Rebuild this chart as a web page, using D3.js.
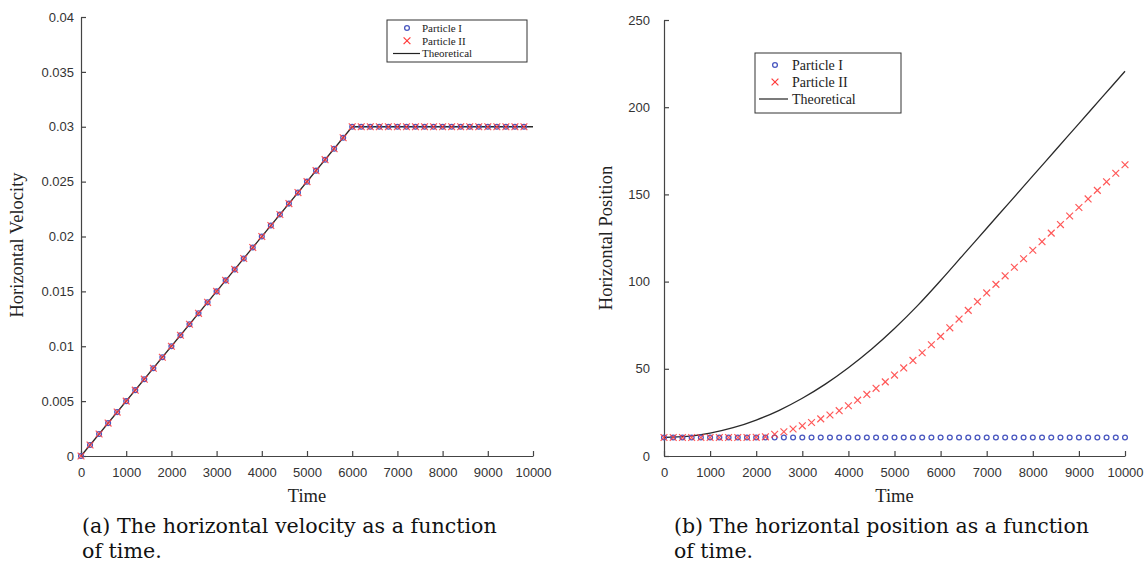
<!DOCTYPE html>
<html><head><meta charset="utf-8">
<script src="https://cdn.jsdelivr.net/npm/d3@7/dist/d3.min.js"></script>
<style>
body{margin:0;background:#fff;}
svg{display:block;}
.tick text{font-family:"Liberation Sans",Arial,sans-serif;font-size:13px;fill:#333;}
</style></head><body>
<svg id="c" width="1147" height="567"></svg>
<script>
// ---------- DATA ----------
// (a) horizontal velocity
const velTime = [0,200,400,600,800,1000,1200,1400,1600,1800,2000,2200,2400,2600,2800,3000,3200,3400,3600,3800,4000,4200,4400,4600,4800,5000,5200,5400,5600,5800,6000,6200,6400,6600,6800,7000,7200,7400,7600,7800,8000,8200,8400,8600,8800,9000,9200,9400,9600,9800];
const velParticleI = [0,0.001,0.002,0.003,0.004,0.005,0.006,0.007,0.008,0.009,0.010,0.011,0.012,0.013,0.014,0.015,0.016,0.017,0.018,0.019,0.020,0.021,0.022,0.023,0.024,0.025,0.026,0.027,0.028,0.029,0.030,0.030,0.030,0.030,0.030,0.030,0.030,0.030,0.030,0.030,0.030,0.030,0.030,0.030,0.030,0.030,0.030,0.030,0.030,0.030];
const velParticleII = [0,0.001,0.002,0.003,0.004,0.005,0.006,0.007,0.008,0.009,0.010,0.011,0.012,0.013,0.014,0.015,0.016,0.017,0.018,0.019,0.020,0.021,0.022,0.023,0.024,0.025,0.026,0.027,0.028,0.029,0.030,0.030,0.030,0.030,0.030,0.030,0.030,0.030,0.030,0.030,0.030,0.030,0.030,0.030,0.030,0.030,0.030,0.030,0.030,0.030];
const velTheoTime = [0,6000,10000];
const velTheo = [0,0.03,0.03];
const velTicksY = [0,0.005,0.01,0.015,0.02,0.025,0.03,0.035,0.04];

// (b) horizontal position
const posTime = [0,200,400,600,800,1000,1200,1400,1600,1800,2000,2200,2400,2600,2800,3000,3200,3400,3600,3800,4000,4200,4400,4600,4800,5000,5200,5400,5600,5800,6000,6200,6400,6600,6800,7000,7200,7400,7600,7800,8000,8200,8400,8600,8800,9000,9200,9400,9600,9800,10000];
const posParticleI = [10.6,10.6,10.6,10.6,10.6,10.6,10.6,10.6,10.6,10.6,10.6,10.6,10.6,10.6,10.6,10.6,10.6,10.6,10.6,10.6,10.6,10.6,10.6,10.6,10.6,10.6,10.6,10.6,10.6,10.6,10.6,10.6,10.6,10.6,10.6,10.6,10.6,10.6,10.6,10.6,10.6,10.6,10.6,10.6,10.6,10.6,10.6,10.6,10.6,10.6,10.6];
const posParticleII = [10.6,10.6,10.6,10.6,10.6,10.6,10.6,10.6,10.6,10.6,10.7,11.0,12.5,13.9,15.5,17.3,19.2,21.3,23.5,26.0,28.8,32.0,35.3,38.8,42.5,46.4,50.5,54.8,59.2,63.8,68.6,73.5,78.5,83.5,88.5,93.5,98.4,103.3,108.2,113.1,118.0,122.9,127.8,132.7,137.6,142.5,147.4,152.3,157.2,162.1,167.0];
const posTheoTime = [0,500,1000,1500,2000,2500,3000,3500,4000,4500,5000,5500,6000,6500,7000,7500,8000,8500,9000,9500,10000];
const posTheo = [10.6,11.2,13.1,16.2,20.6,26.2,33.1,41.2,50.6,61.2,73.1,86.2,100.6,115.6,130.6,145.6,160.6,175.6,190.6,205.6,220.6];
const posTicksY = [0,50,100,150,200,250];

const timeTicks = [0,1000,2000,3000,4000,5000,6000,7000,8000,9000,10000];
const legendLabels = ["Particle I","Particle II","Theoretical"];
const captionA = ["(a) The horizontal velocity as a function","of time."];
const captionB = ["(b) The horizontal position as a function","of time."];

// ---------- DRAW ----------
const svg = d3.select("#c");
const SERIF = '"Liberation Serif","Times New Roman",serif';
const CAPSERIF = '"DejaVu Serif","Liberation Serif",serif';
const blue = "#4a58c0", red = "#ff3b3b", axisCol = "#444";

function panel(o){
  const x = d3.scaleLinear().domain([0,10000]).range([o.x0,o.x1]);
  const y = d3.scaleLinear().domain(o.ydom).range([456,o.ytop]);
  const g = svg.append("g");

  const xa = g.append("g").attr("transform","translate(0,456)")
    .call(d3.axisBottom(x).tickValues(timeTicks).tickFormat(d3.format("d")).tickSizeInner(-5).tickSizeOuter(0).tickPadding(9));
  const ya = g.append("g").attr("transform",`translate(${o.x0},0)`)
    .call(d3.axisLeft(y).tickValues(o.ticks).tickFormat(o.fmt).tickSizeInner(-5).tickSizeOuter(0).tickPadding(o.pad));
  [xa,ya].forEach(a=>{
    a.select(".domain").attr("stroke",axisCol).attr("stroke-width",1.2);
    a.selectAll(".tick line").attr("stroke",axisCol).attr("stroke-width",1.2);
  });
  xa.selectAll(".tick text").attr("dy","0.9em");

  g.append("path")
    .datum(o.theoT.map((t,i)=>[t,o.theo[i]]))
    .attr("fill","none").attr("stroke","#2a2a2a").attr("stroke-width",1.3)
    .attr("d", d3.line().x(d=>x(d[0])).y(d=>y(d[1])).curve(o.curve));

  g.selectAll(".p1").data(o.t.map((t,i)=>[t,o.p1[i]])).join("circle")
    .attr("cx",d=>x(d[0])).attr("cy",d=>y(d[1])).attr("r",2.4)
    .attr("fill","none").attr("stroke",blue).attr("stroke-width",1.3);
  const s = 3.4;
  g.selectAll(".p2").data(o.t.map((t,i)=>[t,o.p2[i]])).join("path")
    .attr("d",d=>{const cx=x(d[0]),cy=y(d[1]);return `M${cx-s},${cy-s}L${cx+s},${cy+s}M${cx-s},${cy+s}L${cx+s},${cy-s}`;})
    .attr("stroke",red).attr("stroke-width",1.2).attr("stroke-opacity",0.85).attr("fill","none");

  g.append("text").attr("x",(o.x0+o.x1)/2).attr("y",502).attr("text-anchor","middle")
    .style("font-family",SERIF).style("font-size","18.5px").attr("fill","#222").text("Time");
  g.append("text").attr("transform",`translate(${o.ylabX},${o.ylabY}) rotate(-90)`).attr("text-anchor","middle")
    .style("font-family",SERIF).style("font-size","18.5px").attr("fill","#222").text(o.ylab);

  const L = o.leg;
  g.append("rect").attr("x",L.x).attr("y",L.y).attr("width",L.w).attr("height",L.h)
    .attr("fill","#fff").attr("stroke","#333").attr("stroke-width",1);
  legendLabels.forEach((lab,i)=>{
    const cy = L.rows[i];
    if(i===0) g.append("circle").attr("cx",L.mx).attr("cy",cy).attr("r",2.4).attr("fill","none").attr("stroke",blue).attr("stroke-width",1.3);
    if(i===1) g.append("path").attr("d",`M${L.mx-s},${cy-s}L${L.mx+s},${cy+s}M${L.mx-s},${cy+s}L${L.mx+s},${cy-s}`).attr("stroke",red).attr("stroke-width",1.2);
    if(i===2) g.append("line").attr("x1",L.lx0).attr("x2",L.lx1).attr("y1",cy).attr("y2",cy).attr("stroke","#222").attr("stroke-width",1.2);
    g.append("text").attr("x",L.tx).attr("y",cy).attr("dy","0.35em")
      .style("font-family",SERIF).style("font-size",L.fs+"px").attr("fill","#222").text(lab);
  });

  // caption: size chosen so the first line spans the reference width
  const t0 = g.append("text").attr("x",o.capX).attr("y",533)
    .style("font-family",CAPSERIF).style("font-size","20px").attr("fill","#111").text(o.cap[0]);
  const fs = Math.min(21, 20*o.capW/t0.node().getComputedTextLength());
  t0.style("font-size",fs+"px");
  g.append("text").attr("x",o.capX).attr("y",558)
    .style("font-family",CAPSERIF).style("font-size",fs+"px").attr("fill","#111").text(o.cap[1]);
}

panel({x0:81,x1:533,ydom:[0,0.04],ytop:17,ticks:velTicksY,fmt:d=>d===0?"0":d3.format("")(+d.toFixed(3)),pad:7,
  t:velTime,p1:velParticleI,p2:velParticleII,theoT:velTheoTime,theo:velTheo,curve:d3.curveLinear,
  ylab:"Horizontal Velocity",ylabX:23,ylabY:245,
  leg:{x:387,y:20,w:140,h:42,rows:[28,40.75,53.5],mx:407,lx0:393,lx1:420,tx:422,fs:11},
  cap:captionA,capX:82,capW:415});

panel({x0:664,x1:1125,ydom:[0,250],ytop:20,ticks:posTicksY,fmt:d3.format("d"),pad:14,
  t:posTime,p1:posParticleI,p2:posParticleII,theoT:posTheoTime,theo:posTheo,curve:d3.curveMonotoneX,
  ylab:"Horizontal Position",ylabX:612,ylabY:238,
  leg:{x:755,y:53,w:146,h:60,rows:[65,82,99],mx:775,lx0:759,lx1:788,tx:792,fs:14},
  cap:captionB,capX:674,capW:415});
</script>
</body></html>
